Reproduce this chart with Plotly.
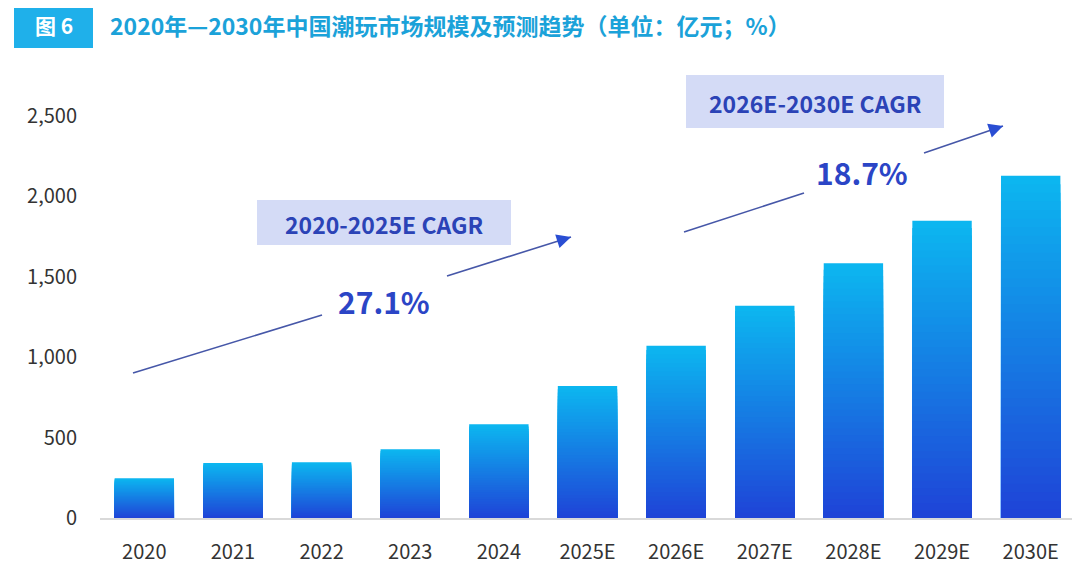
import plotly.graph_objects as go

# market size, 亿元
years = ["2020", "2021", "2022", "2023", "2024", "2025E",
         "2026E", "2027E", "2028E", "2029E", "2030E"]
market = [247, 342, 346, 427, 583, 821, 1071, 1320, 1584, 1849, 2129]

y_ticks = [0, 500, 1000, 1500, 2000, 2500]
y_labels = ["0", "500", "1,000", "1,500", "2,000", "2,500"]

cagr_labels = ["2020-2025E CAGR", "2026E-2030E CAGR"]
cagr_values = ["27.1%", "18.7%"]

title = "2020年—2030年中国潮玩市场规模及预测趋势（单位：亿元；%）"

CJK = "Noto Sans CJK SC"

# the page body adds 8px, so layout positions are measured on screen and shifted back
OFF = 8
# plot area on screen: x 100..1075, y 116..518
L, R, T, B = 100, 1075, 116, 518


def px(xp):
    return (xp - L) / (R - L)


def py(yp):
    return (B - yp) / (B - T)


def mix(c1, c2, t):
    a = [int(c1[i:i + 2], 16) for i in (1, 3, 5)]
    b = [int(c2[i:i + 2], 16) for i in (1, 3, 5)]
    return "rgb(%d,%d,%d)" % tuple(round(a[i] + (b[i] - a[i]) * t) for i in range(3))


BOTTOM, TOP = "#1f43d7", "#0cb7f0"
N = 40

fig = go.Figure()
# vertical gradient: overlaid bars, each shorter one a bit bluer
for k in range(N):
    frac = (N - k) / N
    t = (N - k - 0.5) / N
    fig.add_trace(go.Bar(
        x=years, y=[v * frac for v in market],
        marker=dict(color=mix(BOTTOM, TOP, t), line=dict(width=0)),
        hoverinfo="skip" if k else "x+y",
        showlegend=False,
    ))

shapes = []
ann = []


def text(s, x, y, size, color, anchor="center"):
    ann.append(dict(text=s, xref="paper", yref="paper", x=px(x), y=py(y),
                    xanchor=anchor, yanchor="middle", showarrow=False,
                    font=dict(family=CJK, size=size, color=color)))


# title tag
shapes.append(dict(type="rect", xref="paper", yref="paper",
                   x0=px(14), x1=px(93), y0=py(48), y1=py(3),
                   fillcolor="#1fb0ea", line=dict(width=0)))
text("<b>图 6</b>", 53.5, 25, 21, "white")
text("<b>%s</b>" % title, 108, 25, 23, "#1ba2d9", anchor="left")

# CAGR boxes
boxes = [(257, 511, 200, 245), (686, 944, 75, 128)]
for (x0, x1, y0, y1), lab in zip(boxes, cagr_labels):
    shapes.append(dict(type="rect", xref="paper", yref="paper",
                       x0=px(x0), x1=px(x1), y0=py(y1), y1=py(y0),
                       fillcolor="#d4dbf6", line=dict(width=0)))
    text("<b>%s</b>" % lab, (x0 + x1) / 2, (y0 + y1) / 2 + 1, 23, "#2b43b6")

for (xc, yc), val in zip([(384, 301), (862, 172)], cagr_values):
    text("<b>%s</b>" % val, xc, yc, 30, "#2b45c6")

# trend arrows, split around the percentage text
segs = [((133, 373), (322, 315)), ((447, 276), (571, 237)),
        ((684, 232), (804, 193)), ((924, 153), (1003, 126))]
for (xa, ya), (xb, yb) in segs:
    shapes.append(dict(type="line", xref="paper", yref="paper",
                       x0=px(xa), y0=py(ya), x1=px(xb), y1=py(yb),
                       line=dict(color="#4657a8", width=1.6)))
for (xa, ya), (xb, yb) in (segs[1], segs[3]):
    d = ((xb - xa) ** 2 + (yb - ya) ** 2) ** 0.5
    ann.append(dict(text="", xref="paper", yref="paper",
                    x=px(xb), y=py(yb), showarrow=True,
                    ax=-(xb - xa) / d * 14, ay=-(yb - ya) / d * 14,
                    arrowhead=2, arrowsize=1.3, arrowwidth=2.2,
                    arrowcolor="#2a4ed3"))

fig.update_layout(
    width=1080, height=570,
    margin=dict(l=L - OFF, r=1080 - R + OFF, t=T - OFF, b=570 - B + OFF, pad=0),
    paper_bgcolor="white", plot_bgcolor="white",
    barmode="overlay", bargap=0.33,
    shapes=shapes, annotations=ann,
    xaxis=dict(showline=True, linecolor="#d9d9d9", linewidth=2,
               showgrid=False, ticks="", ticklabelstandoff=15,
               tickfont=dict(family=CJK, size=20, color="#333333")),
    yaxis=dict(range=[0, 2500], tickvals=y_ticks, ticktext=y_labels,
               showgrid=False, zeroline=False, showline=False, ticks="",
               ticklabelstandoff=22,
               tickfont=dict(family=CJK, size=20, color="#333333")),
)

fig.write_html("out.html")
